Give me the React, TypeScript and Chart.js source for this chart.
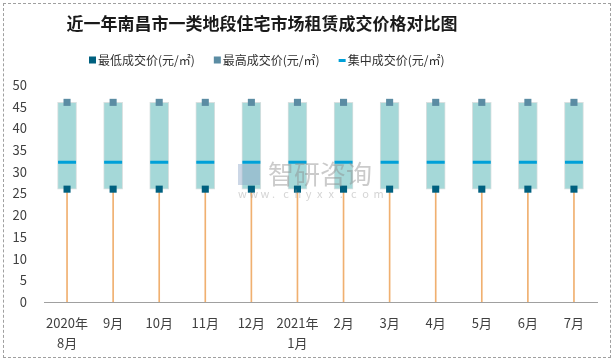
import React, { useEffect, useRef } from "react";
import { Chart, registerables } from "chart.js";

Chart.register(...registerables);

const categories: (string | string[])[] = [
  ["2020年", "8月"], "9月", "10月", "11月", "12月", ["2021年", "1月"],
  "2月", "3月", "4月", "5月", "6月", "7月",
];
const lowPrice = [26, 26, 26, 26, 26, 26, 26, 26, 26, 26, 26, 26];
const highPrice = [46, 46, 46, 46, 46, 46, 46, 46, 46, 46, 46, 46];
const midPrice = [32.2, 32.2, 32.2, 32.2, 32.2, 32.2, 32.2, 32.2, 32.2, 32.2, 32.2, 32.2];
const yTicks = [0, 5, 10, 15, 20, 25, 30, 35, 40, 45, 50];

const TITLE = "近一年南昌市一类地段住宅市场租赁成交价格对比图";
const LOW_LABEL = "最低成交价(元/㎡)";
const HIGH_LABEL = "最高成交价(元/㎡)";
const MID_LABEL = "集中成交价(元/㎡)";

const FONT = "'Noto Sans CJK SC', 'Noto Sans', sans-serif";

const headerPlugin = {
  id: "header",
  afterDraw(chart: any) {
    const ctx = chart.ctx;
    ctx.save();
    // title
    ctx.fillStyle = "#1a1a1a";
    ctx.font = `bold 17px ${FONT}`;
    ctx.textAlign = "center";
    ctx.textBaseline = "middle";
    ctx.fillText(TITLE, 262, 24);
    // legend
    ctx.font = `12px ${FONT}`;
    ctx.textAlign = "left";
    const ds = chart.data.datasets;
    let x = 89;
    const y = 60;
    [0, 1, 2].forEach((i) => {
      const d = ds[i];
      if (i === 2) {
        ctx.fillStyle = d.borderColor;
        ctx.fillRect(x, y - 1, 7, 3);
      } else {
        ctx.fillStyle = d.backgroundColor;
        ctx.fillRect(x, y - 3.5, 7, 7);
      }
      x += 9;
      ctx.fillStyle = "#303030";
      ctx.fillText(d.label, x, y);
      x += ctx.measureText(d.label).width + 19;
    });
    ctx.restore();
  },
};

const watermark = {
  id: "watermark",
  afterDatasetsDraw(chart: any) {
    const ctx = chart.ctx;
    ctx.save();
    ctx.globalAlpha = 0.45;
    ctx.fillStyle = "#8c8c8c";
    ctx.font = `26px ${FONT}`;
    ctx.textBaseline = "middle";
    ctx.textAlign = "left";
    ctx.fillText("智研咨询", 268, 174);
    ctx.fillStyle = "#8fa6c8";
    ctx.fillRect(238, 164, 22, 21);
    ctx.fillStyle = "#a0a0a0";
    ctx.font = `11px ${FONT}`;
    const s = "www.chyxx.com";
    let x = 238;
    for (const ch of s) {
      ctx.fillText(ch, x, 194);
      x += 11.3;
    }
    ctx.restore();
  },
};

export default function App() {
  const ref = useRef<HTMLCanvasElement>(null);
  useEffect(() => {
    if (!ref.current) return;
    const chart = new Chart(ref.current, {
      type: "bar",
      data: {
        labels: categories,
        datasets: [
          {
            type: "scatter" as any,
            label: LOW_LABEL,
            data: lowPrice,
            pointStyle: "rect",
            pointRadius: 5,
            backgroundColor: "#00607f",
            borderColor: "#00607f",
            borderWidth: 0,
            order: 0,
          } as any,
          {
            type: "scatter" as any,
            label: HIGH_LABEL,
            data: highPrice,
            pointStyle: "rect",
            pointRadius: 5,
            backgroundColor: "#5b8ca3",
            borderColor: "#5b8ca3",
            borderWidth: 0,
            order: 0,
          } as any,
          {
            type: "scatter" as any,
            label: MID_LABEL,
            data: midPrice,
            pointStyle: "line",
            pointRadius: 9,
            borderWidth: 3,
            backgroundColor: "#00a0d8",
            borderColor: "#00a0d8",
            order: 1,
          } as any,
          {
            label: "box",
            data: lowPrice.map((l, i) => [l, highPrice[i]]),
            backgroundColor: "#a5d8d8",
            borderColor: "#d8e0e0",
            borderWidth: 1,
            borderSkipped: false,
            barThickness: 19,
            grouped: false,
            order: 2,
          } as any,
          {
            label: "drop",
            data: lowPrice.map((l) => [0, l]),
            backgroundColor: "#f0b070",
            borderWidth: 0,
            barThickness: 1,
            grouped: false,
            order: 3,
          } as any,
        ],
      },
      options: {
        animation: false,
        responsive: false,
        layout: { padding: { left: 0, right: 17, top: 85, bottom: 8 } },
        plugins: {
          title: { display: false },
          legend: { display: false },
          tooltip: { enabled: false },
        },
        scales: {
          x: {
            type: "category",
            grid: { display: false },
            border: { display: true, color: "#a0a0a0", width: 1 },
            ticks: {
              color: "#404040",
              font: { family: FONT, size: 13, lineHeight: 1.55 },
              maxRotation: 0,
              autoSkip: false,
              padding: 3,
            },
            afterFit: (s: any) => {
              s.height = 54;
            },
          },
          y: {
            min: 0,
            max: 50,
            grid: { display: false },
            border: { display: false },
            afterBuildTicks: (s: any) => {
              s.ticks = yTicks.map((v) => ({ value: v }));
            },
            ticks: {
              color: "#404040",
              font: { family: FONT, size: 13 },
              padding: 9,
            },
            afterFit: (s: any) => {
              s.width = 44;
            },
          },
        },
      },
      plugins: [watermark, headerPlugin],
    } as any);
    return () => chart.destroy();
  }, []);
  return (
    <div style={{ position: "fixed", left: 0, top: 0, width: 614, height: 364, background: "#fff" }}>
      <canvas ref={ref} width={614} height={364} style={{ position: "absolute", left: 0, top: 0 }} />
      <div
        style={{
          position: "absolute",
          left: 3,
          top: 3,
          width: 606,
          height: 353,
          border: "1px dashed #a0a0a0",
          pointerEvents: "none",
        }}
      />
    </div>
  );
}
